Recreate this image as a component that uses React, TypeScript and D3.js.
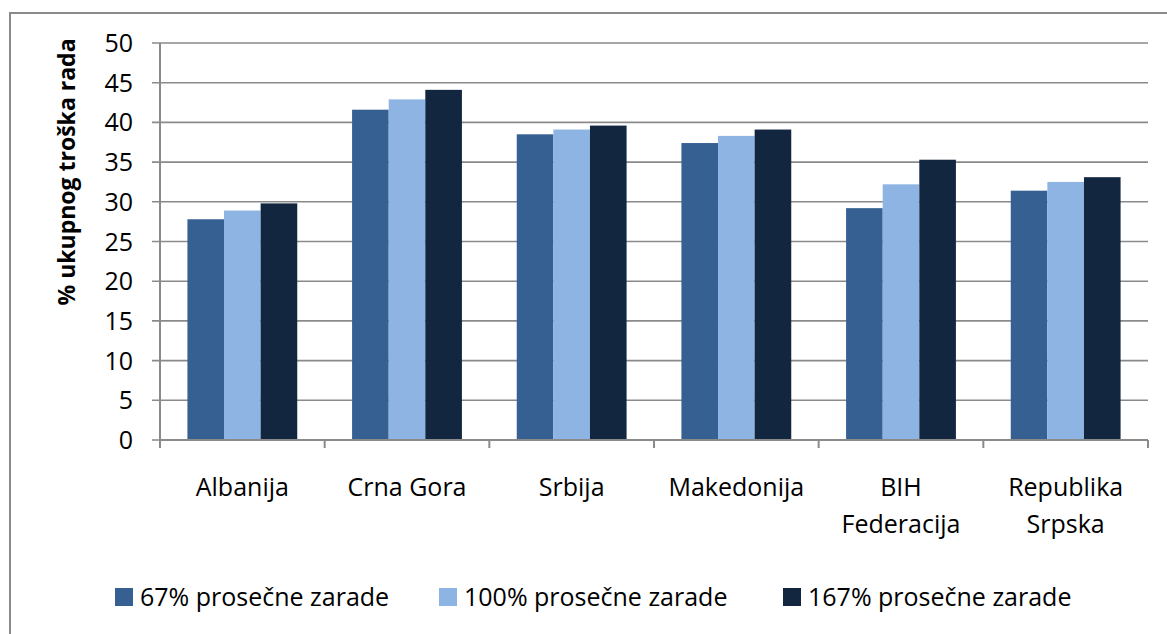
import React, { useEffect, useRef } from "react";
import * as d3 from "d3";

const categories: string[][] = [
  ["Albanija"],
  ["Crna Gora"],
  ["Srbija"],
  ["Makedonija"],
  ["BIH", "Federacija"],
  ["Republika", "Srpska"],
];

const seriesNames = ["67% prosečne zarade", "100% prosečne zarade", "167% prosečne zarade"];
const seriesColors = ["#376092", "#8eb4e3", "#12263f"];

const s67 = [27.8, 41.6, 38.5, 37.4, 29.2, 31.4];
const s100 = [28.9, 42.9, 39.1, 38.3, 32.2, 32.5];
const s167 = [29.8, 44.1, 39.6, 39.1, 35.3, 33.1];

const yTicks = [0, 5, 10, 15, 20, 25, 30, 35, 40, 45, 50];

const W = 1167;
const H = 634;
const FONT = "'Open Sans', 'DejaVu Sans', sans-serif";
const GRID = "#8a8a8a";

const App: React.FC = () => {
  const ref = useRef<SVGSVGElement | null>(null);

  useEffect(() => {
    const svg = d3.select(ref.current);
    svg.selectAll("*").remove();

    const left = 160;
    const right = 1148;
    const top = 43;
    const bottom = 440;

    // outer frame (only top and left visible)
    svg.append("path")
      .attr("d", `M10,${H} L10,13 L${W},13`)
      .attr("fill", "none")
      .attr("stroke", GRID)
      .attr("stroke-width", 2);

    const x = d3.scaleBand<number>()
      .domain(categories.map((_, i) => i))
      .range([left, right]);

    const y = d3.scaleLinear().domain([0, 50]).range([bottom, top]);

    const groupW = x.bandwidth() * 0.667;
    const inner = d3.scaleBand<number>().domain([0, 1, 2]).range([0, groupW]);

    // gridlines
    svg.append("g")
      .selectAll("line")
      .data(yTicks)
      .enter()
      .append("line")
      .attr("x1", left - 8)
      .attr("x2", right)
      .attr("y1", d => y(d))
      .attr("y2", d => y(d))
      .attr("stroke", GRID)
      .attr("stroke-width", 1.6);

    // y tick labels
    svg.append("g")
      .selectAll("text")
      .data(yTicks)
      .enter()
      .append("text")
      .attr("x", 133)
      .attr("y", d => y(d) + 9)
      .attr("text-anchor", "end")
      .attr("font-family", FONT)
      .attr("font-size", 25)
      .attr("fill", "#000")
      .text(d => d);

    const series = [s67, s100, s167];

    // bars
    series.forEach((vals, si) => {
      svg.append("g")
        .selectAll("rect")
        .data(vals)
        .enter()
        .append("rect")
        .attr("x", (_, i) => (x(i) as number) + (x.bandwidth() - groupW) / 2 + (inner(si) as number))
        .attr("y", d => y(d))
        .attr("width", inner.bandwidth())
        .attr("height", d => bottom - y(d))
        .attr("fill", seriesColors[si]);
    });

    // axes lines
    svg.append("line")
      .attr("x1", left).attr("x2", left)
      .attr("y1", top).attr("y2", bottom + 8)
      .attr("stroke", GRID).attr("stroke-width", 2);
    svg.append("line")
      .attr("x1", left).attr("x2", right)
      .attr("y1", bottom).attr("y2", bottom)
      .attr("stroke", GRID).attr("stroke-width", 2);

    // x ticks at band edges
    const edges = categories.map((_, i) => x(i) as number).concat([right]);
    svg.append("g")
      .selectAll("line")
      .data(edges)
      .enter()
      .append("line")
      .attr("x1", d => d).attr("x2", d => d)
      .attr("y1", bottom).attr("y2", bottom + 8)
      .attr("stroke", GRID).attr("stroke-width", 2);

    // x labels
    const lbl = svg.append("g")
      .selectAll("text")
      .data(categories)
      .enter()
      .append("text")
      .attr("text-anchor", "middle")
      .attr("font-family", FONT)
      .attr("font-size", 25)
      .attr("fill", "#000")
      .attr("transform", (_, i) => `translate(${(x(i) as number) + x.bandwidth() / 2},496)`);
    lbl.selectAll("tspan")
      .data(d => d)
      .enter()
      .append("tspan")
      .attr("x", 0)
      .attr("y", (_, j) => j * 37)
      .text(d => d);

    // y axis title
    svg.append("text")
      .attr("transform", "translate(75,172) rotate(-90)")
      .attr("text-anchor", "middle")
      .attr("font-family", FONT)
      .attr("font-weight", "bold")
      .attr("font-size", 23)
      .attr("fill", "#000")
      .text("% ukupnog troška rada");

    // legend
    const legendX = [115, 439, 783];
    const lg = svg.append("g")
      .selectAll("g")
      .data(seriesNames)
      .enter()
      .append("g")
      .attr("transform", (_, i) => `translate(${legendX[i]},588)`);
    lg.append("rect")
      .attr("width", 18)
      .attr("height", 18)
      .attr("fill", (_, i) => seriesColors[i]);
    lg.append("text")
      .attr("x", 25)
      .attr("y", 18)
      .attr("font-family", FONT)
      .attr("font-size", 25)
      .attr("fill", "#000")
      .text(d => d);
  }, []);

  return (
    <div style={{ position: "absolute", left: 0, top: 0 }}>
      <svg ref={ref} width={W} height={H} style={{ display: "block", background: "#fff" }}></svg>
    </div>
  );
};

export default App;
